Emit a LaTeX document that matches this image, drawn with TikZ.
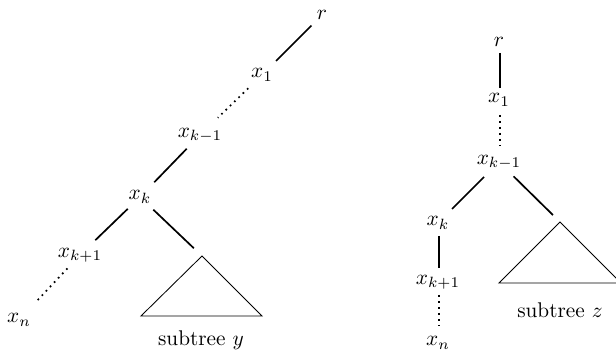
\documentclass[tikz,border=0pt]{standalone}
\begin{document}
\begin{tikzpicture}[x=0.47pt,y=-0.47pt,
  lbl/.style={inner sep=0pt},
  edge/.style={line width=0.8pt},
  dotedge/.style={line width=0.8pt,dotted},
  tri/.style={line width=0.4pt}]
\useasboundingbox (0,0) rectangle (616,351);
% left tree
\node[lbl] (r) at (322,15) {$r$};
\node[lbl] (a1) at (262,75) {$x_1$};
\node[lbl] (akm) at (200,135) {$x_{k-1}$};
\node[lbl] (ak) at (140,197) {$x_k$};
\node[lbl] (akp) at (80,255) {$x_{k+1}$};
\node[lbl] (an) at (19,320) {$x_n$};
\coordinate (ty) at (202,256);
\draw[tri] (ty) -- (141,316) -- (262,316) -- cycle;
\node[lbl] (sy) at (201,340) {subtree $y$};
\draw[edge,shorten <=14.9*0.47pt,shorten >=19.8*0.47pt] (r.center) -- (a1.center);
\draw[dotedge,shorten <=19.1*0.47pt,shorten >=24.8*0.47pt] (a1.center) -- (akm.center);
\draw[edge,shorten <=19.1*0.47pt,shorten >=20.5*0.47pt] (akm.center) -- (ak.center);
\draw[edge,shorten <=17*0.47pt,shorten >=21.3*0.47pt] (ak.center) -- (akp.center);
\draw[edge,shorten <=18.4*0.47pt,shorten >=11.3*0.47pt] (ak.center) -- (ty);
\draw[dotedge,shorten <=18.4*0.47pt,shorten >=26*0.47pt] (akp.center) -- (an.center);
% right tree
\node[lbl] (R) at (499,42) {$r$};
\node[lbl] (B1) at (499,100) {$x_1$};
\node[lbl] (Bkm) at (499,162) {$x_{k-1}$};
\node[lbl] (Bk) at (438,223) {$x_k$};
\node[lbl] (Bkp) at (438,282) {$x_{k+1}$};
\node[lbl] (Bn) at (438,343) {$x_n$};
\coordinate (tz) at (560,222);
\draw[tri] (tz) -- (499,283) -- (621,283) -- cycle;
\node[lbl] (sz) at (560,310) {subtree $z$};
\draw[edge,shorten <=11*0.47pt,shorten >=12*0.47pt] ([xshift=0.47pt]R.center) -- ([xshift=0.47pt]B1.center);
\draw[dotedge,shorten <=15*0.47pt,shorten >=15*0.47pt] ([xshift=0.47pt]B1.center) -- ([xshift=0.47pt]Bkm.center);
\draw[edge,shorten <=21.2*0.47pt,shorten >=19.8*0.47pt] (Bkm.center) -- (Bk.center);
\draw[edge,shorten <=20.5*0.47pt,shorten >=9.9*0.47pt] (Bkm.center) -- (tz);
\draw[edge,shorten <=13*0.47pt,shorten >=14*0.47pt] ([xshift=0.47pt]Bk.center) -- ([xshift=0.47pt]Bkp.center);
\draw[dotedge,shorten <=13*0.47pt,shorten >=15*0.47pt] ([xshift=0.47pt]Bkp.center) -- ([xshift=0.47pt]Bn.center);
\end{tikzpicture}
\end{document}
